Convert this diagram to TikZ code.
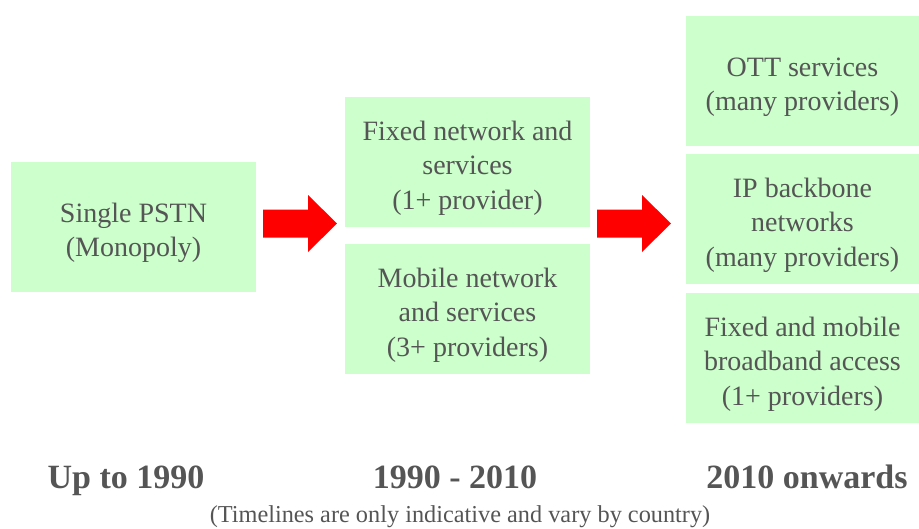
\documentclass[tikz,border=0pt]{standalone}
\usepackage{fontspec}
\setmainfont{Liberation Serif}
\usetikzlibrary{calc}
\definecolor{boxgreen}{HTML}{CCFFCC}
\definecolor{txtgray}{HTML}{555555}
\definecolor{arrred}{HTML}{FF0000}
\begin{document}
\begin{tikzpicture}[x=1pt,y=-1pt,
  box/.style={fill=boxgreen,draw=none,inner sep=0pt,minimum height=130pt},
  boxtext/.style={inner sep=0pt,align=center,text=txtgray,
    font=\fontsize{28}{34.5}\selectfont},
  era/.style={text=txtgray,font=\fontsize{34}{40}\selectfont\bfseries,inner sep=0pt},
  note/.style={text=txtgray,font=\fontsize{24.3}{28}\selectfont,inner sep=0pt},
  blockarrow/.style={fill=arrred,draw=none}]
\useasboundingbox (0,0) rectangle (919,528);
% column 1
\node[box,minimum width=245pt] (pstn) at (133.5,227) {};
\node[boxtext] (pstn-t) at ($(pstn.center)+(0,6)$) {Single PSTN\\(Monopoly)};
% column 2
\node[box,minimum width=245pt] (fixed) at (467.5,162) {};
\node[boxtext] (fixed-t) at ($(fixed.center)+(0,6)$) {Fixed network and\\services\\(1+ provider)};
\node[box,minimum width=245pt] (mobile) at (467.5,309) {};
\node[boxtext] (mobile-t) at ($(mobile.center)+(0,6)$) {Mobile network\\and services\\(3+ providers)};
% column 3
\node[box,minimum width=233pt] (ott) at (802.5,81) {};
\node[boxtext] (ott-t) at ($(ott.center)+(0,6)$) {OTT services\\(many providers)};
\node[box,minimum width=233pt] (ip) at (802.5,219) {};
\node[boxtext] (ip-t) at ($(ip.center)+(0,6)$) {IP backbone\\networks\\(many providers)};
\node[box,minimum width=233pt] (bb) at (802.5,358) {};
\node[boxtext] (bb-t) at ($(bb.center)+(0,6)$) {Fixed and mobile\\broadband access\\(1+ providers)};
% arrows
\coordinate (a1) at (263,223.5);
\fill[blockarrow] ($(a1)+(0,-14)$) -- ++(45,0) -- ++(0,-14.5) -- ($(a1)+(74,0)$) -- ($(a1)+(45,28.5)$) -- ++(0,-14.5) -- ($(a1)+(0,14)$) -- cycle;
\coordinate (a2) at (597,223.5);
\fill[blockarrow] ($(a2)+(0,-14)$) -- ++(45,0) -- ++(0,-14.5) -- ($(a2)+(74,0)$) -- ($(a2)+(45,28.5)$) -- ++(0,-14.5) -- ($(a2)+(0,14)$) -- cycle;
% era labels
\node[era,anchor=base] (e1) at (126,488) {Up to 1990};
\node[era,anchor=base] (e2) at (455,488) {1990 - 2010};
\node[era,anchor=base] (e3) at (807,488) {2010 onwards};
\node[note,anchor=base] (n) at (460,522) {(Timelines are only indicative and vary by country)};
\end{tikzpicture}
\end{document}
